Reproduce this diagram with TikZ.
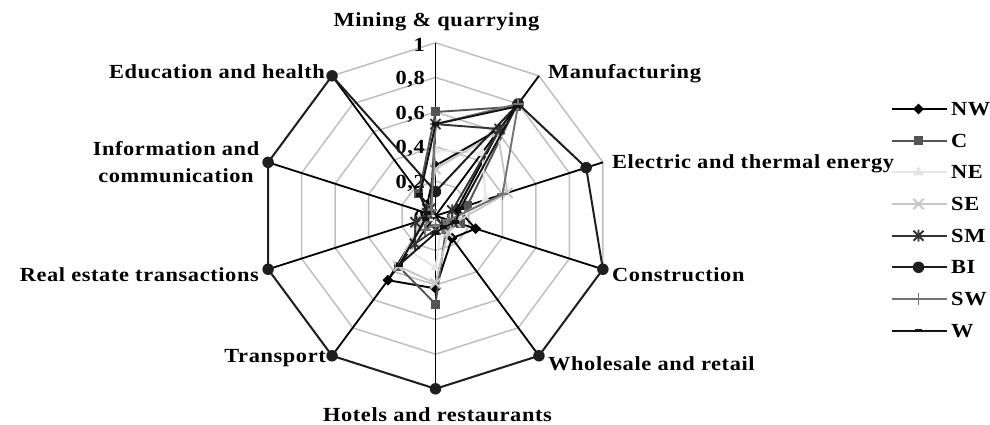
\documentclass[tikz,border=0pt]{standalone}
\usepackage{fontspec}
\setmainfont{Liberation Serif}[LetterSpace=3,FakeStretch=1.12]
\usetikzlibrary{shapes.geometric}
\definecolor{cNW}{gray}{0}
\definecolor{cC}{gray}{0.33}
\definecolor{cNE}{gray}{0.9}
\definecolor{cSE}{gray}{0.78}
\definecolor{cSM}{gray}{0.2}
\definecolor{cBI}{gray}{0.12}
\definecolor{cSW}{gray}{0.45}
\definecolor{cW}{gray}{0.08}
\definecolor{cgrid}{gray}{0.75}
\newcommand\mkseries[2]{%
  \foreach \v [count=\k from 0] in {#2}{%
    \coordinate (#1\k) at ({435.5+176*\v*sin(36*\k)},{215.8-173*\v*cos(36*\k)});}}
\tikzset{
  lbl/.style={font=\bfseries\fontsize{20}{27.7}\selectfont, inner sep=0pt},
  gridline/.style={draw=cgrid, line width=1.5pt},
  axisline/.style={draw=black, line width=1.8pt},
  sNW/.style={draw=cNW, line width=1.9pt, line join=round},
  sC/.style={draw=cC, line width=1.9pt, line join=round},
  sNE/.style={draw=cNE, line width=1.9pt, line join=round},
  sSE/.style={draw=cSE, line width=1.9pt, line join=round},
  sSM/.style={draw=cSM, line width=1.9pt, line join=round},
  sBI/.style={draw=cBI, line width=2pt, line join=round},
  sSW/.style={draw=cSW, line width=1.9pt, line join=round},
  sW/.style={draw=cW, line width=1.9pt, line join=round},
  mkdiamond/.style={diamond, fill=cNW, inner sep=0pt, minimum size=11pt},
  mksquare/.style={rectangle, fill=cC, inner sep=0pt, minimum size=9pt},
  mktri/.style={regular polygon, regular polygon sides=3, fill=cNE, inner sep=0pt, minimum size=12pt},
  mkcircle/.style={circle, fill=cBI, inner sep=0pt, minimum size=11.5pt},
  mkdash/.style={rectangle, fill=cW, inner sep=0pt, minimum width=7pt, minimum height=3.5pt},
}
\begin{document}
\begin{tikzpicture}[x=1pt,y=-1pt]
\fill[white] (0,0) rectangle (990,425);
\useasboundingbox (0,0) rectangle (990,425);
% centre and axis ends
\coordinate (ctr) at (435.5,215.8);
\mkseries{ax}{1,1,1,1,1,1,1,1,1,1}
% grid rings
\foreach \r in {0.2,0.4,0.6,0.8,1}{
  \draw[gridline] (435.5,{215.8-173*\r})
    \foreach \k in {1,...,9}{ -- ({435.5+176*\r*sin(36*\k)},{215.8-173*\r*cos(36*\k)}) } -- cycle;
}
% axes
\foreach \k in {0,...,9}{ \draw[axisline] (ctr) -- (ax\k); }
% tick labels
\foreach \v/\t in {0/0,0.2/{0,2},0.4/{0,4},0.6/{0,6},0.8/{0,8},1/1}{
  \node[lbl, anchor=east] (tick\v) at (425,{217.8-173*\v}) {\t};
}
% category labels
\node[lbl, anchor=base] (lMi) at (436.5,27) {Mining \& quarrying};
\node[lbl, anchor=base west] (lMa) at (548,79) {Manufacturing};
\node[lbl, anchor=base west] (lEl) at (612,168) {Electric and thermal energy};
\node[lbl, anchor=base west] (lCo) at (612,281) {Construction};
\node[lbl, anchor=base west] (lWh) at (548,370) {Wholesale and retail};
\node[lbl, anchor=base] (lHo) at (437.5,421) {Hotels and restaurants};
\node[lbl, anchor=base east] (lTr) at (326,362) {Transport};
\node[lbl, anchor=base east] (lRE) at (259,281) {Real estate transactions};
\node[lbl, anchor=north, align=center] (lIC) at (176,141) {Information and\\communication};
\node[lbl, anchor=base east] (lEH) at (325,79) {Education and health};
% series data: Mi, Ma, El, Co, Wh, Ho, Tr, RE, IC, EH
\mkseries{NW}{0.29,0.62,0.13,0.24,0.16,0.42,0.46,0.06,0.05,0.08}
\mkseries{C}{0.60,0.78,0.19,0.15,0.10,0.51,0.36,0.05,0.04,0.16}
\mkseries{NE}{0.38,0.45,0.30,0.10,0.06,0.30,0.25,0.04,0.03,0.05}
\mkseries{SE}{0.27,0.60,0.43,0.12,0.12,0.39,0.36,0.08,0.05,0.06}
\mkseries{SM}{0.53,0.62,0.10,0.10,0.06,0.08,0.20,0.12,0.05,0.05}
\mkseries{BI}{0.14,0.80,0.90,1,1,1,1,1,1,1}
\mkseries{SW}{0.53,0.80,0.40,0.08,0.08,0.05,0.10,0.05,0.04,0.04}
\mkseries{W}{0.53,0.78,0.15,0.12,0.08,0.10,0.35,0.06,0.05,0.15}
% NW
\draw[sNW] (NW0) \foreach \k in {1,...,9}{ -- (NW\k) } -- cycle;
\foreach \k in {0,...,9}{ \node[mkdiamond] (mNW\k) at (NW\k) {}; }
% C
\draw[sC] (C0) \foreach \k in {1,...,9}{ -- (C\k) } -- cycle;
\foreach \k in {0,...,9}{ \node[mksquare] (mC\k) at (C\k) {}; }
% NE
\draw[sNE] (NE0) \foreach \k in {1,...,9}{ -- (NE\k) } -- cycle;
\foreach \k in {0,...,9}{ \node[mktri] (mNE\k) at (NE\k) {}; }
% SE
\draw[sSE] (SE0) \foreach \k in {1,...,9}{ -- (SE\k) } -- cycle;
\foreach \k in {0,...,9}{ \draw[sSE] (SE\k) ++(-5,-5) -- ++(10,10) ++(0,-10) -- ++(-10,10); }
% SM
\draw[sSM] (SM0) \foreach \k in {1,...,9}{ -- (SM\k) } -- cycle;
\foreach \k in {0,...,9}{ \draw[sSM] (SM\k) ++(-5,-5) -- ++(10,10) ++(0,-10) -- ++(-10,10) (SM\k) ++(0,-6) -- ++(0,12); }
% BI
\draw[sBI] (BI0) \foreach \k in {1,...,9}{ -- (BI\k) } -- cycle;
\foreach \k in {0,...,9}{ \node[mkcircle] (mBI\k) at (BI\k) {}; }
% SW
\draw[sSW] (SW0) \foreach \k in {1,...,9}{ -- (SW\k) } -- cycle;
\foreach \k in {0,...,9}{ \draw[sSW] (SW\k) ++(-5.5,0) -- ++(11,0) (SW\k) ++(0,-6) -- ++(0,12); }
% W
\draw[sW] (W0) \foreach \k in {1,...,9}{ -- (W\k) } -- cycle;
\foreach \k in {0,...,9}{ \node[mkdash] (mW\k) at (W\k) {}; }
% legend
\foreach \n/\y in {NW/109,C/140.7,NE/172.3,SE/204,SM/235.7,BI/267.3,SW/299,W/330.7}{
  \coordinate (lg\n a) at (891.7,\y);
  \coordinate (lg\n b) at (947.3,\y);
  \coordinate (lg\n m) at (918.5,\y);
  \node[lbl, anchor=west] (lg\n t) at (951,\y) {\n};
}
\draw[sNW] (lgNWa) -- (lgNWb); \node[mkdiamond] (lgNWmk) at (lgNWm) {};
\draw[sC] (lgCa) -- (lgCb); \node[mksquare] (lgCmk) at (lgCm) {};
\draw[sNE] (lgNEa) -- (lgNEb); \node[mktri] (lgNEmk) at (lgNEm) {};
\draw[sSE] (lgSEa) -- (lgSEb); \draw[sSE] (lgSEm) ++(-5,-5) -- ++(10,10) ++(0,-10) -- ++(-10,10);
\draw[sSM] (lgSMa) -- (lgSMb); \draw[sSM] (lgSMm) ++(-5,-5) -- ++(10,10) ++(0,-10) -- ++(-10,10) (lgSMm) ++(0,-6) -- ++(0,12);
\draw[sBI] (lgBIa) -- (lgBIb); \node[mkcircle] (lgBImk) at (lgBIm) {};
\draw[sSW] (lgSWa) -- (lgSWb); \draw[sSW] (lgSWm) ++(0,-6) -- ++(0,12);
\draw[sW] (lgWa) -- (lgWb); \node[mkdash] (lgWmk) at (lgWm) {};
\end{tikzpicture}
\end{document}
